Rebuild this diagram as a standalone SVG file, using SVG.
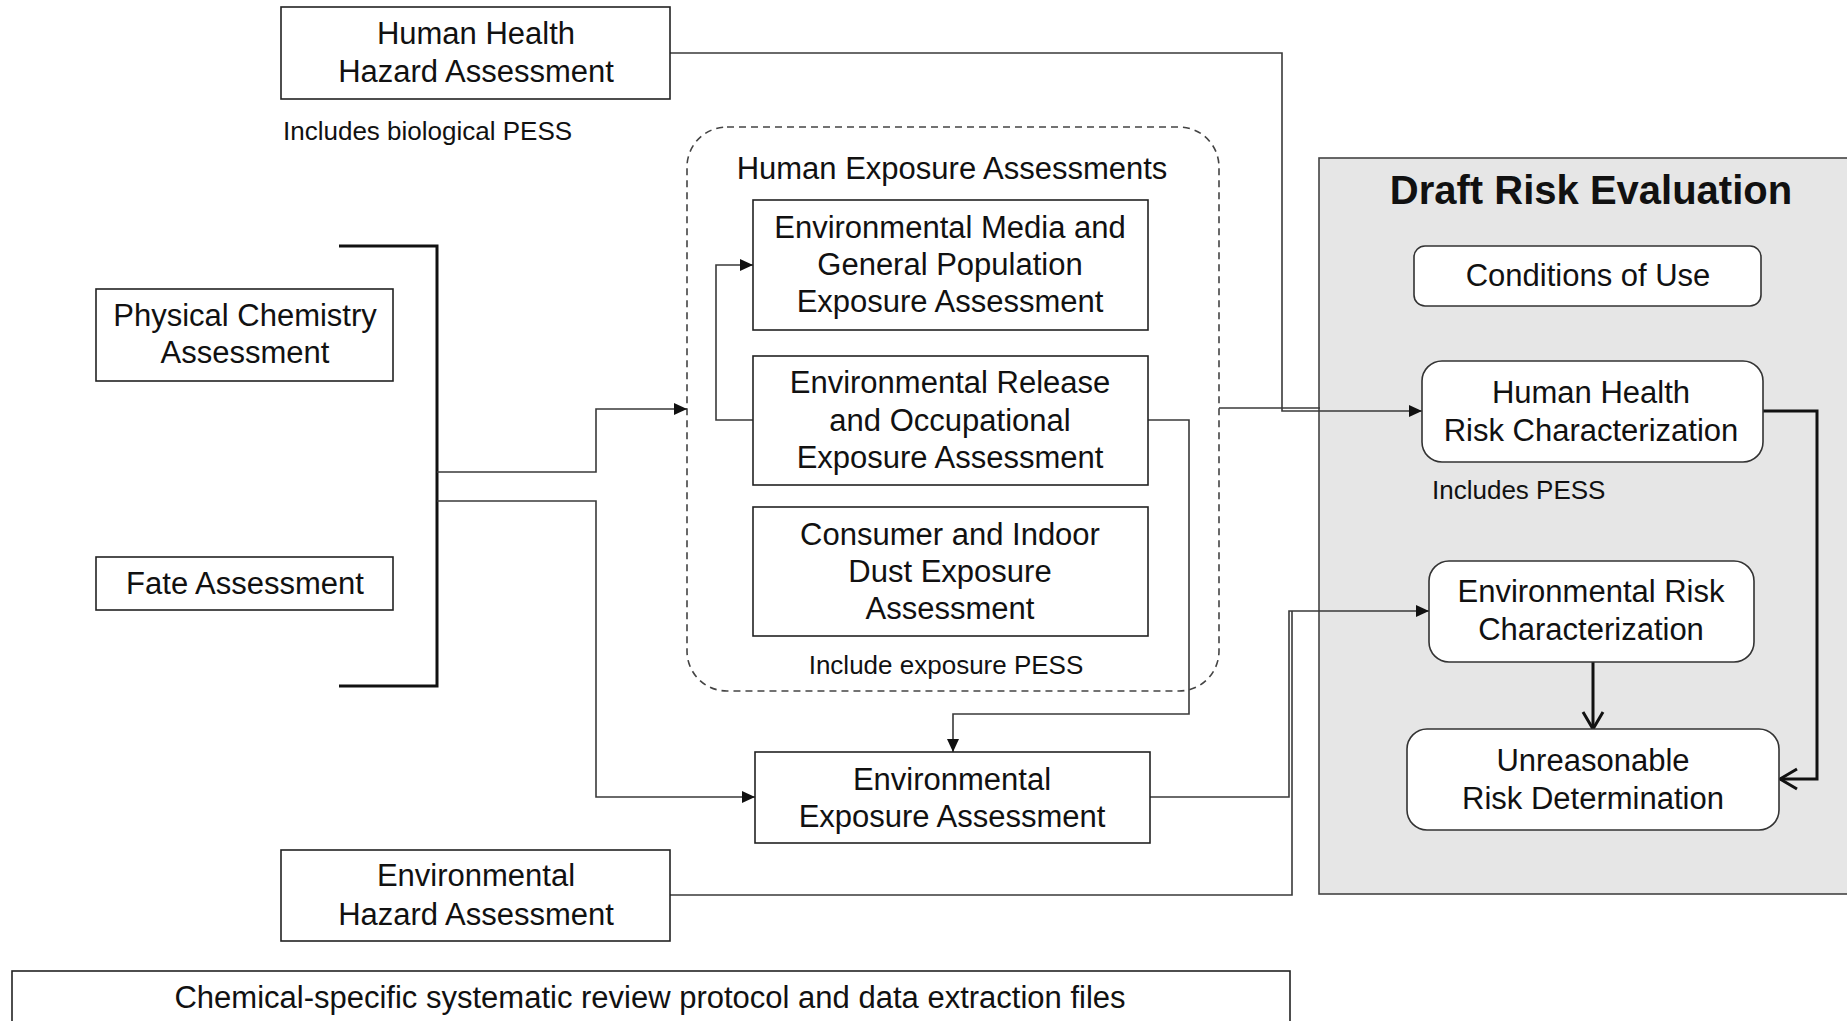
<svg xmlns="http://www.w3.org/2000/svg" width="1847" height="1021" viewBox="0 0 1847 1021">
<style>
text{font-family:"Liberation Sans",Arial,sans-serif;fill:#111;}
.t{font-size:31px;text-anchor:middle;}
.s{font-size:26px;}
.sc{font-size:26px;text-anchor:middle;}
.b{fill:#fff;stroke:#222;stroke-width:1.6;}
.rb{fill:#fff;stroke:#333;stroke-width:1.6;}
.c{fill:none;stroke:#3a3a3a;stroke-width:1.6;}
.k{fill:none;stroke:#111;stroke-width:3;}
</style>
<defs>
<marker id="a" markerUnits="userSpaceOnUse" markerWidth="14" markerHeight="12" refX="13" refY="6" orient="auto"><path d="M0,0 L13,6 L0,12 z" fill="#111"/></marker>
<marker id="v" markerUnits="userSpaceOnUse" markerWidth="22" markerHeight="24" refX="19" refY="12" orient="auto"><path d="M2,2 L19,12 L2,22" fill="none" stroke="#111" stroke-width="3"/></marker>
</defs>
<rect width="1847" height="1021" fill="#fff"/>
<g id="draft-risk-evaluation">
<rect x="1319" y="158" width="540" height="736" fill="#e6e6e6" stroke="#444" stroke-width="1.6"/>
<text x="1591" y="204" font-size="40" font-weight="bold" text-anchor="middle">Draft Risk Evaluation</text>
</g>
<g id="human-exposure-group">
<rect x="687" y="127" width="532" height="564" rx="40" fill="none" stroke="#444" stroke-width="1.6" stroke-dasharray="7,5"/>
<text class="t" x="952" y="179">Human Exposure Assessments</text>
<text class="sc" x="946" y="674">Include exposure PESS</text>
</g>
<g id="connectors">
<path class="k" d="M339,246 H437 V686 H339"/>
<path class="c" d="M437,472 H596 V409 H687" marker-end="url(#a)"/>
<path class="c" d="M437,501 H596 V797 H755" marker-end="url(#a)"/>
<path class="c" d="M753,420 H716 V265 H753" marker-end="url(#a)"/>
<path class="c" d="M1148,420 H1189 V714 H953 V752" marker-end="url(#a)"/>
<path class="c" d="M1219,408 H1320"/>
<path class="c" d="M670,53 H1282 V411 H1422" marker-end="url(#a)"/>
<path class="c" d="M1150,797 H1289 V611 H1429" marker-end="url(#a)"/>
<path class="c" d="M670,895 H1292 V611"/>
<path class="k" d="M1593,662 V729" marker-end="url(#v)"/>
<path class="k" d="M1763,411 H1817 V779 H1780" marker-end="url(#v)"/>
</g>
<g id="hh-hazard">
<rect class="b" x="281" y="7" width="389" height="92"/>
<text class="t" x="476" y="44">Human Health</text>
<text class="t" x="476" y="82">Hazard Assessment</text>
<text class="s" x="283" y="140">Includes biological PESS</text>
</g>
<g id="phys-chem">
<rect class="b" x="96" y="289" width="297" height="92"/>
<text class="t" x="245" y="326">Physical Chemistry</text>
<text class="t" x="245" y="363">Assessment</text>
</g>
<g id="fate">
<rect class="b" x="96" y="557" width="297" height="53"/>
<text class="t" x="245" y="594">Fate Assessment</text>
</g>
<g id="env-media">
<rect class="b" x="753" y="200" width="395" height="130"/>
<text class="t" x="950" y="238">Environmental Media and</text>
<text class="t" x="950" y="275">General Population</text>
<text class="t" x="950" y="312">Exposure Assessment</text>
</g>
<g id="env-release">
<rect class="b" x="753" y="356" width="395" height="129"/>
<text class="t" x="950" y="393">Environmental Release</text>
<text class="t" x="950" y="431">and Occupational</text>
<text class="t" x="950" y="468">Exposure Assessment</text>
</g>
<g id="consumer">
<rect class="b" x="753" y="507" width="395" height="129"/>
<text class="t" x="950" y="545">Consumer and Indoor</text>
<text class="t" x="950" y="582">Dust Exposure</text>
<text class="t" x="950" y="619">Assessment</text>
</g>
<g id="env-exposure">
<rect class="b" x="755" y="752" width="395" height="91"/>
<text class="t" x="952" y="790">Environmental</text>
<text class="t" x="952" y="827">Exposure Assessment</text>
</g>
<g id="env-hazard">
<rect class="b" x="281" y="850" width="389" height="91"/>
<text class="t" x="476" y="886">Environmental</text>
<text class="t" x="476" y="925">Hazard Assessment</text>
</g>
<g id="conditions-of-use">
<rect class="rb" x="1414" y="246" width="347" height="60" rx="11"/>
<text class="t" x="1588" y="286">Conditions of Use</text>
</g>
<g id="hh-risk">
<rect class="rb" x="1422" y="361" width="341" height="101" rx="20"/>
<text class="t" x="1591" y="403">Human Health</text>
<text class="t" x="1591" y="441">Risk Characterization</text>
<text class="s" x="1432" y="499">Includes PESS</text>
</g>
<g id="env-risk">
<rect class="rb" x="1429" y="561" width="325" height="101" rx="20"/>
<text class="t" x="1591" y="602">Environmental Risk</text>
<text class="t" x="1591" y="640">Characterization</text>
</g>
<g id="unreasonable">
<rect class="rb" x="1407" y="729" width="372" height="101" rx="20"/>
<text class="t" x="1593" y="771">Unreasonable</text>
<text class="t" x="1593" y="809">Risk Determination</text>
</g>
<g id="protocol">
<rect class="b" x="12" y="971" width="1278" height="70"/>
<text class="t" x="650" y="1008">Chemical-specific systematic review protocol and data extraction files</text>
</g>
</svg>
